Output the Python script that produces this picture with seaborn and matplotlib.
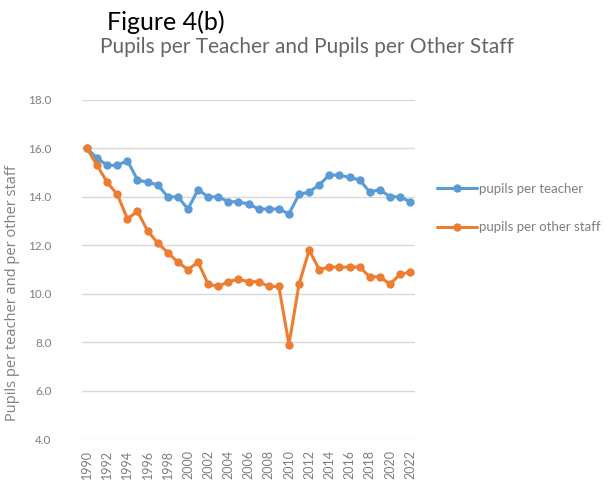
import numpy as np
import pandas as pd
import matplotlib
matplotlib.use("Agg")
import matplotlib.pyplot as plt
import seaborn as sns

years = list(range(1990, 2023))
pupils_per_teacher = [16.0, 15.6, 15.3, 15.3, 15.5, 14.7, 14.6, 14.5, 14.0, 14.0,
                      13.5, 14.3, 14.0, 14.0, 13.8, 13.8, 13.7, 13.5, 13.5, 13.5,
                      13.3, 14.1, 14.2, 14.5, 14.9, 14.9, 14.8, 14.7, 14.2, 14.3,
                      14.0, 14.0, 13.8]
pupils_per_other = [16.0, 15.3, 14.6, 14.1, 13.1, 13.4, 12.6, 12.1, 11.7, 11.3,
                    11.0, 11.3, 10.4, 10.3, 10.5, 10.6, 10.5, 10.5, 10.3, 10.3,
                    7.9, 10.4, 11.8, 11.0, 11.1, 11.1, 11.1, 11.1, 10.7, 10.7,
                    10.4, 10.8, 10.9]
series_names = ["pupils per teacher", "pupils per other staff"]
yticks = [4.0, 6.0, 8.0, 10.0, 12.0, 14.0, 16.0, 18.0]

df = pd.DataFrame({
    "year": years * 2,
    "value": pupils_per_teacher + pupils_per_other,
    "series": [series_names[0]] * len(years) + [series_names[1]] * len(years),
})

sns.set_style("white")
plt.rcParams['font.family'] = ['Lato', 'DejaVu Sans']

fig = plt.figure(figsize=(6.07, 4.95), dpi=100)
ax = fig.add_axes([0.135, 0.113, 0.549, 0.685])

grey = "#7f7f7f"
sns.lineplot(data=df, x="year", y="value", hue="series", ax=ax,
             palette=["#5B9BD5", "#ED7D31"], marker="o", markersize=6,
             markeredgewidth=0, linewidth=2.2)

ax.set_xlim(1989.5, 2022.5)
ax.set_ylim(4, 18)
ax.set_yticks(yticks)
ax.set_yticklabels([f"{v:.1f}" for v in yticks], color=grey, fontsize=8.5)
ax.set_xticks(years[::2])
ax.set_xticklabels([str(y) for y in years[::2]], rotation=90, color=grey, fontsize=9)
ax.tick_params(axis="y", length=0, pad=22)
ax.tick_params(axis="x", length=0, pad=8)
ax.yaxis.grid(True, color="#d9d9d9", linewidth=1)
for s in ax.spines.values():
    s.set_visible(False)
ax.set_xlabel("")
ax.set_ylabel("Pupils per teacher and per other staff", color=grey, fontsize=10.5,
              family=["Open Sans", "DejaVu Sans"])
ax.yaxis.set_label_coords(-0.185, 0.43)

leg = ax.legend(loc="upper left", bbox_to_anchor=(1.03, 0.79), frameon=False,
                fontsize=9.5, labelspacing=2.0, handlelength=3, handletextpad=0.2)
for t in leg.get_texts():
    t.set_color(grey)

fig.text(0.176, 0.955, "Figure 4(b)", fontsize=18, color="black", ha="left", va="center")
fig.text(0.505, 0.905, "Pupils per Teacher and Pupils per Other Staff", fontsize=15,
         color="#666666", ha="center", va="center")

fig.savefig("out.png", dpi=100)
